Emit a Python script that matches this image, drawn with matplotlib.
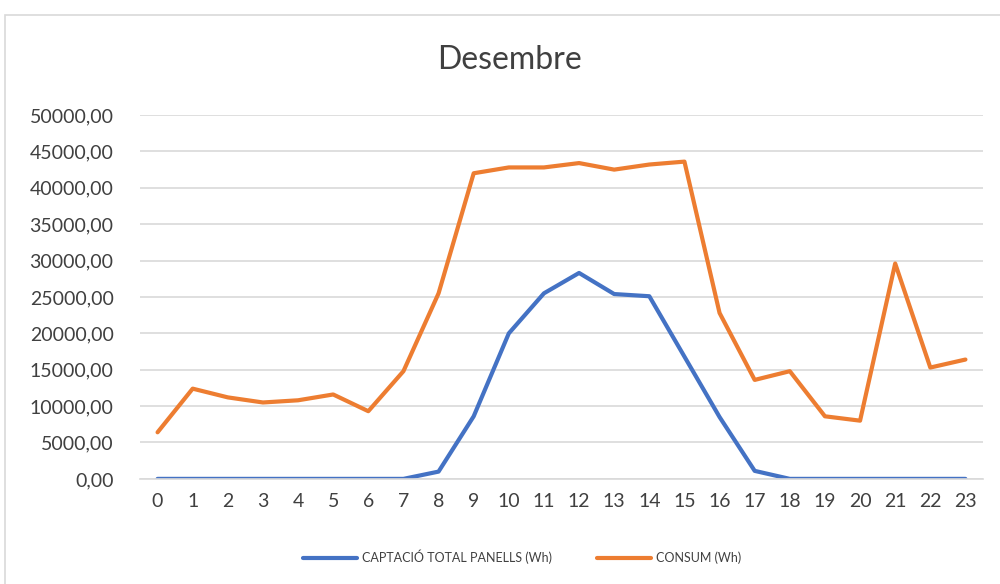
"""Desembre -- hourly solar capture vs consumption (Wh)."""

import matplotlib
matplotlib.use("Agg")
import matplotlib.pyplot as plt
from matplotlib.patches import Rectangle
from matplotlib.ticker import FuncFormatter, MultipleLocator

hours = list(range(24))
captacio = [0, 0, 0, 0, 0, 0, 0, 0, 1000, 8600, 20000, 25500,
            28300, 25400, 25100, 16800, 8500, 1100, 0, 0, 0, 0, 0, 0]
consum = [6400, 12400, 11200, 10500, 10800, 11600, 9300, 14800, 25500, 42000, 42800, 42800,
          43400, 42500, 43200, 43600, 22800, 13600, 14800, 8600, 8000, 29600, 15300, 16400]

BLUE = "#4472C4"
ORANGE = "#ED7D31"
GRID = "#D9D9D9"
TEXT = "#404040"

plt.rcParams["font.family"] = ["Lato", "DejaVu Sans"]

fig = plt.figure(figsize=(10, 5.84), dpi=100)
ax = fig.add_axes([0.14, 0.180, 0.843, 0.623])

ax.plot(hours, captacio, color=BLUE, lw=3, solid_capstyle="round", solid_joinstyle="round",
        label="CAPTACIÓ TOTAL PANELLS (Wh)")
ax.plot(hours, consum, color=ORANGE, lw=3, solid_capstyle="round", solid_joinstyle="round",
        label="CONSUM (Wh)")

ax.set_xlim(-0.5, 23.5)
ax.set_ylim(0, 50000)
ax.set_xticks(hours)
ax.yaxis.set_major_locator(MultipleLocator(5000))
ax.yaxis.set_major_formatter(FuncFormatter(lambda v, _: f"{v:.2f}".replace(".", ",")))
ax.tick_params(length=0, labelsize=14, colors=TEXT)
ax.tick_params(axis="y", pad=19)
ax.tick_params(axis="x", pad=10)
ax.grid(axis="y", color=GRID, lw=1.2)
ax.set_axisbelow(True)
for side in ("top", "right", "left"):
    ax.spines[side].set_visible(False)
ax.spines["bottom"].set_color(GRID)
ax.spines["bottom"].set_linewidth(1.2)

fig.text(0.51, 0.897, "Desembre", ha="center", va="center", fontsize=23, color=TEXT)

fig.legend(loc="center", bbox_to_anchor=(0.522, 0.046), ncol=2, frameon=False, fontsize=9,
           labelcolor=TEXT, handlelength=4.3, columnspacing=3.6, handletextpad=0.4)

fig.patches.append(Rectangle((0.005, -0.1), 1.2, 1.1 - 15 / 584, transform=fig.transFigure,
                             fill=False, edgecolor=GRID, lw=1.2))

fig.savefig("out.png", dpi=100)
